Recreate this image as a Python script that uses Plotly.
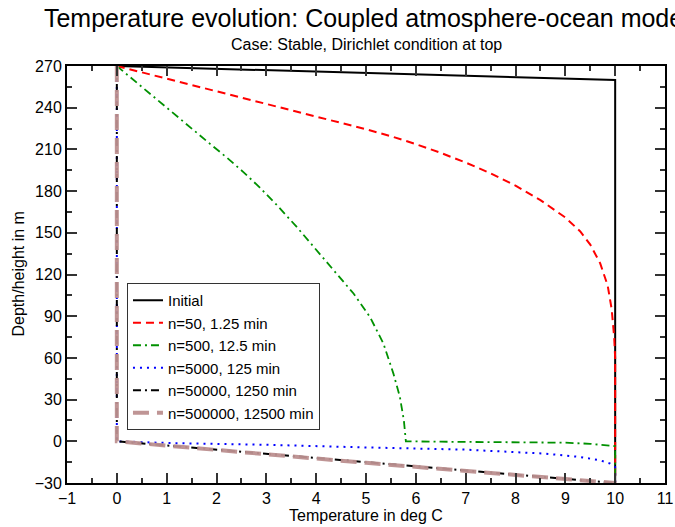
import plotly.graph_objects as go

# ---- data (temperature in deg C, height in m) ----
init_T = [0, 10, 10]
init_H = [270, 260, -30]

n50_T = [0, 0.5, 1, 1.5, 2, 2.5, 3, 3.5, 4, 4.5, 5, 5.5, 6, 6.5, 7, 7.5, 8, 8.5,
         9, 9.3, 9.5, 9.7, 9.85, 9.93, 9.98, 10, 10]
n50_H = [270, 265.5, 261, 256.5, 252, 247.5, 243, 238.5, 234, 229.3, 224.5, 219.5, 213.8,
         207.5, 200.5, 192.8, 184, 173.5, 161, 151, 141.5, 128, 112, 95, 75, 60, -30]

n500_T = [0, 0.15, 0.46, 0.86, 1.2, 1.53, 1.87, 2.2, 2.54, 2.87, 3.21, 3.61, 4.01, 4.41, 4.75,
          5.08, 5.35, 5.55, 5.68, 5.76, 5.8, 5.8, 6.5, 8.0, 9.0, 9.5, 9.85, 10, 10]
n500_H = [270, 265.5, 256, 244, 233.5, 223.7, 214, 204.3, 193.7, 182.5, 170, 154.2, 137.4, 120.6, 106.3,
          89.4, 70.3, 48.7, 31.9, 15, 1, 0, -0.3, -0.5, -1, -1.8, -2.9, -3.5, -30]

n5000_T = [0, 0, 1, 3, 5, 7, 8.6, 9.3, 9.7, 9.9, 10, 10]
n5000_H = [270, 0, -1.2, -2.5, -4.4, -6, -8.9, -11.3, -13.7, -16, -18.5, -30]

n50000_T = [0, 0, 5, 8, 10]
n50000_H = [270, 0, -15, -23.8, -30]

n500000_T = [0, 0, 5, 10]
n500000_H = [270, 0, -15.5, -30]

labels = ["Initial", "n=50, 1.25 min", "n=500, 12.5 min", "n=5000, 125 min",
          "n=50000, 1250 min", "n=500000, 12500 min"]

FONT = "Liberation Sans, Arial, sans-serif"

fig = go.Figure()
series = [
    (init_T, init_H, dict(color="black", width=2, dash="solid")),
    (n50_T, n50_H, dict(color="#ff0000", width=2, dash="8px,5px")),
    (n500_T, n500_H, dict(color="#009100", width=1.8, dash="8px,4px,2px,4px")),
    (n5000_T, n5000_H, dict(color="#0000ff", width=2, dash="2px,5px")),
    (n50000_T, n50000_H, dict(color="black", width=2, dash="8px,4px,2px,4px")),
    (n500000_T, n500000_H, dict(color="rgba(188,143,143,0.95)", width=4, dash="16px,8px")),
]
for (xs, ys, ln), name in zip(series, labels):
    fig.add_trace(go.Scatter(x=xs, y=ys, mode="lines", name=name, line=ln))

axis_common = dict(
    showline=True, linecolor="black", linewidth=2, mirror="allticks",
    ticks="inside", ticklen=10, tickwidth=1.5, tickcolor="#333",
    showgrid=False, zeroline=False, automargin=False,
    tickfont=dict(family=FONT, size=16, color="black"),
)

fig.update_xaxes(range=[-1, 11], dtick=1, tick0=0,
                 minor=dict(ticks="inside", dtick=0.5, ticklen=5, tickwidth=1.5, tickcolor="#333"),
                 **axis_common)
fig.update_yaxes(range=[-30, 270], dtick=30, tick0=0,
                 minor=dict(ticks="inside", dtick=15, ticklen=5, tickwidth=1.5, tickcolor="#333"),
                 **axis_common)

fig.update_layout(
    width=675, height=527,
    margin=dict(l=67, r=10, t=66, b=44, autoexpand=False),
    paper_bgcolor="white", plot_bgcolor="white",
    font=dict(family=FONT, size=16, color="black"),
    title=dict(text="Temperature evolution: Coupled atmosphere-ocean model",
               font=dict(family=FONT, size=25, color="black"),
               x=0.5427, xanchor="center", y=1 - 18 / 527, yanchor="middle"),
    showlegend=True,
    legend=dict(x=0.1003, y=0.4796, xanchor="left", yanchor="top",
                bordercolor="#333", borderwidth=1, bgcolor="white",
                font=dict(family=FONT, size=15, color="black"),
                tracegroupgap=0, itemwidth=30),
    annotations=[
        dict(text="Case: Stable, Dirichlet condition at top",
             xref="paper", yref="paper", x=0.5, y=1.0, yshift=22,
             xanchor="center", yanchor="middle", showarrow=False,
             font=dict(family=FONT, size=16, color="black")),
        dict(text="Temperature in deg C",
             xref="paper", yref="paper", x=0.5, y=0, yshift=-32,
             xanchor="center", yanchor="middle", showarrow=False,
             font=dict(family=FONT, size=16, color="black")),
        dict(text="Depth/height in m", textangle=-90,
             xref="paper", yref="paper", x=0, y=0.5, xshift=-49,
             xanchor="center", yanchor="middle", showarrow=False,
             font=dict(family=FONT, size=16, color="black")),
    ],
)

fig.write_html("out.html",
               config={"displayModeBar": False},
               post_script="document.body.style.margin='0px';document.body.style.padding='0px';")
